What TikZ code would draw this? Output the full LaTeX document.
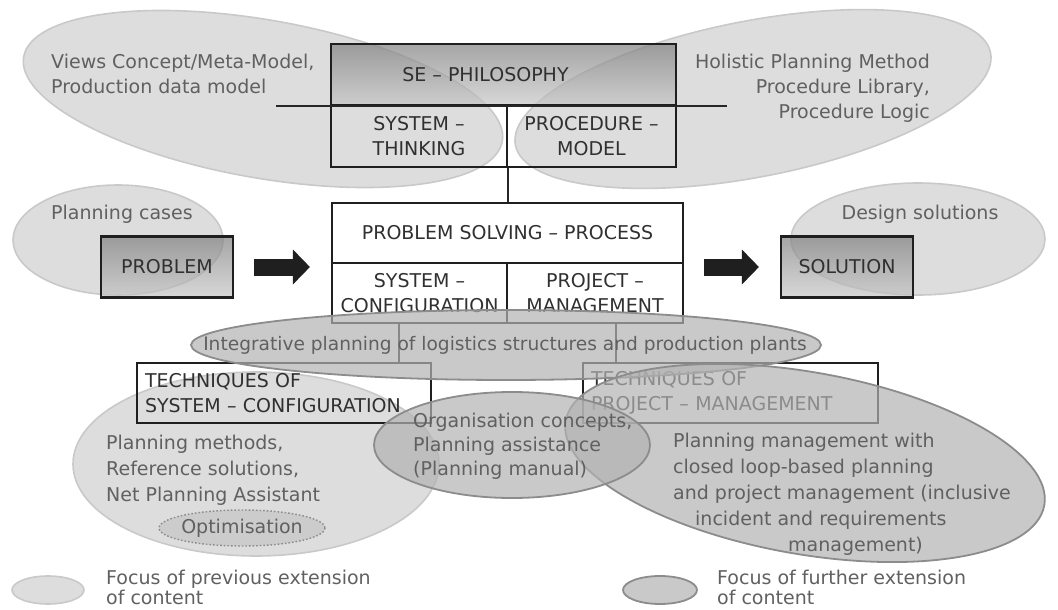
\documentclass[tikz,border=0pt]{standalone}
\usepackage{fontspec}
\setmainfont{DejaVu Sans}
\usetikzlibrary{arrows.meta}
\definecolor{boxtext}{HTML}{303030}
\definecolor{focustext}{HTML}{606060}
\definecolor{lightfill}{HTML}{DDDDDD}
\definecolor{lightline}{HTML}{C9C9C9}
\definecolor{darkfill}{HTML}{B2B2B2}
\definecolor{darkline}{HTML}{8C8C8C}
\tikzset{
  box/.style={draw=black!88, line width=2.2pt, inner sep=0pt, text=boxtext,
    align=center, font=\fontsize{19}{25}\selectfont},
  shadedbox/.style={box, top color=black!50, bottom color=black!22,
    fill opacity=.7, text opacity=1},
  techbox/.style={box, align=left, inner xsep=8pt, minimum height=60pt},
  link/.style={draw=black!85, line width=2pt},
  flow/.style={draw=black!88, line width=17pt,
    -{Triangle[line width=0pt, length=17pt, width=35pt]},
    shorten <=20pt, shorten >=21pt},
  lightfocus/.style={fill=lightfill, draw=lightline, line width=1.6pt},
  darkfocus/.style={fill=darkfill, draw=darkline, line width=1.8pt,
    fill opacity=.7},
  focuslabel/.style={text=focustext, inner sep=0pt, align=left,
    font=\fontsize{19}{25}\selectfont}
}
\begin{document}
\begin{tikzpicture}[x=1pt, y=-1pt]
\useasboundingbox (0,0) rectangle (1058,610);

% previous extension of content
\path[lightfocus, rotate around={-10:(263,99)}] (263,99) ellipse [x radius=243, y radius=79];
\path[lightfocus, rotate around={11:(753,99)}] (753,99) ellipse [x radius=242, y radius=78];
\path[lightfocus] (118,240) ellipse [x radius=105, y radius=55];
\path[lightfocus] (918,239) ellipse [x radius=127, y radius=56];
\path[lightfocus] (256,464) ellipse [x radius=183, y radius=92];
\path[lightfocus, fill=black!20, draw=black!45, dotted, line width=1.4pt] (242,528) ellipse [x radius=83, y radius=18];
\path[lightfocus] (48,590) ellipse [x radius=36, y radius=14];

% SE philosophy
\node[shadedbox, minimum width=345pt, minimum height=61pt] (sehead) at (503.5,74.5) {SE – PHILOSOPHY\hspace*{36pt}};
\node[box, minimum width=176pt, minimum height=62pt] (sethink) at (419,136) {SYSTEM –\\THINKING};
\node[box, minimum width=169pt, minimum height=62pt] (seproc) at (591.5,136) {PROCEDURE –\\MODEL};
\draw[link] ([xshift=-54pt]sehead.south west) -- ([xshift=50pt]sehead.south east);

% problem solving process
\node[box, minimum width=351pt, minimum height=60pt] (pshead) at (507.5,233) {PROBLEM SOLVING – PROCESS};
\node[box, minimum width=175pt, minimum height=60pt] (psconf) at (419.5,293) {SYSTEM –\\CONFIGURATION};
\node[box, minimum width=176pt, minimum height=60pt] (psproj) at (595,293) {PROJECT –\\MANAGEMENT};
\node[shadedbox, minimum width=132pt, minimum height=61pt] (problem) at (167,267) {PROBLEM};
\node[shadedbox, minimum width=132pt, minimum height=61pt] (solution) at (847,267) {SOLUTION};

% techniques
\node[techbox, text width=278pt] (tsys) at (284,393) {TECHNIQUES OF\\SYSTEM – CONFIGURATION};
\node[techbox, text width=279pt] (tproj) at (730.5,393) {TECHNIQUES OF\\PROJECT – MANAGEMENT};

\draw[link] (sethink.south east) -- (sethink.south east |- pshead.north);
\coordinate (c1) at ([xshift=-21pt]psconf.south);
\coordinate (c2) at ([xshift=21pt]psproj.south);
\draw[link] (c1) -- (c1 |- tsys.north);
\draw[link] (c2) -- (c2 |- tproj.north);
\draw[flow] (problem.east) -- (problem.east -| pshead.west);
\draw[flow] (pshead.east |- solution.west) -- (solution.west);

% further extension of content
\path[darkfocus] (506,345) ellipse [x radius=315, y radius=35];
\path[darkfocus, rotate around={-10:(805,463)}] (805,463) ellipse [x radius=243, y radius=91];
\path[darkfocus] (512,445) ellipse [x radius=138, y radius=53];
\path[darkfocus] (660,590) ellipse [x radius=37, y radius=14];

% labels
\node[focuslabel, anchor=west] (views) at (51,74) {Views Concept/Meta-Model,\\Production data model};
\node[focuslabel, anchor=east, align=right] (holistic) at (930,88) {Holistic Planning Method\\Procedure Library,\\Procedure Logic};
\node[focuslabel, anchor=west] (cases) at (51,214) {Planning cases};
\node[focuslabel] (design) at (920,214) {Design solutions};
\node[focuslabel, font=\fontsize{18.6}{25}\selectfont] (integ) at (505,345) {Integrative planning of logistics structures and production plants};
\node[focuslabel, anchor=west, font=\fontsize{19}{26}\selectfont] (methods) at (106,470) {Planning methods,\\Reference solutions,\\Net Planning Assistant};
\node[focuslabel] (optim) at (242,528) {Optimisation};
\node[focuslabel, anchor=west, font=\fontsize{19}{24}\selectfont] (organis) at (413,446) {Organisation concepts,\\Planning assistance\\(Planning manual)};
\node[focuslabel, anchor=west, font=\fontsize{19}{26}\selectfont] (planman) at (673,494.5) {Planning management with\\closed loop-based planning\\and project management (inclusive\\\hspace*{22pt}incident and requirements\\\hspace*{115pt}management)};
\node[focuslabel, anchor=south west, font=\fontsize{19}{20}\selectfont] (prevkey) at (106,605) {Focus of previous extension\\of content};
\node[focuslabel, anchor=south west, font=\fontsize{19}{20}\selectfont] (furtherkey) at (717,605) {Focus of further extension\\of content};
\end{tikzpicture}
\end{document}
